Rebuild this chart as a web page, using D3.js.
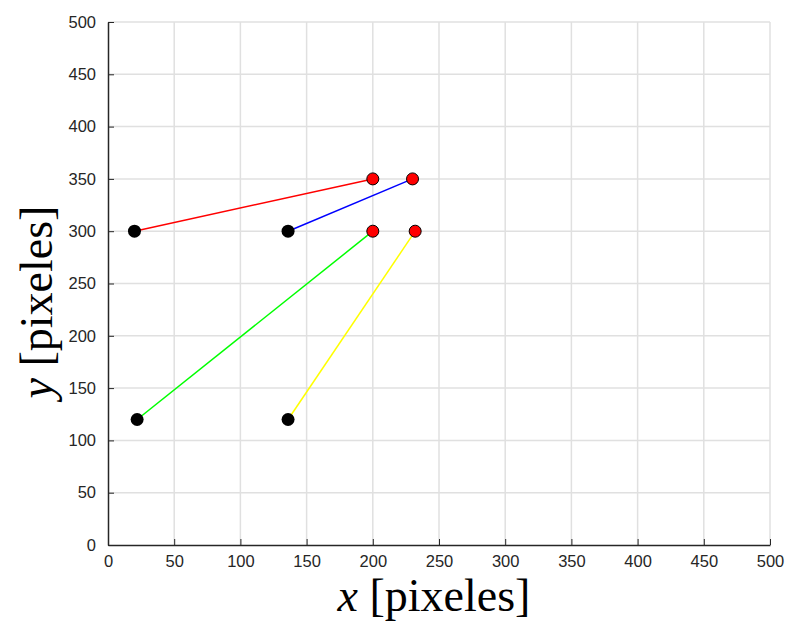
<!DOCTYPE html>
<html>
<head>
<meta charset="utf-8">
<script src="https://cdn.jsdelivr.net/npm/d3@7"></script>
<style>
  body { margin: 0; background: #fff; }
  .tick text { font-family: "Liberation Sans", Arial, sans-serif; font-size: 16.5px; fill: #262626; }
  .axis path, .axis line { stroke: #262626; }
  .lbl { font-family: "Liberation Serif", "DejaVu Serif", serif; font-size: 46px; fill: #000; }
</style>
</head>
<body>
<div id="chart"></div>
<script>
// segment data: start (black) -> end (red)
var startX = [20, 136, 22, 136];
var startY = [300, 300, 120, 120];
var endX = [200, 230, 200, 232];
var endY = [350, 350, 300, 300];
var segColors = ["#ff0000", "#0000ff", "#00ff00", "#ffff00"];
var ticks = [0, 50, 100, 150, 200, 250, 300, 350, 400, 450, 500];

var W = 785, H = 621;
var margin = {left: 108, top: 22, right: 15, bottom: 76};
var width = W - margin.left - margin.right,
    height = H - margin.top - margin.bottom;

var svg = d3.select("#chart").append("svg")
    .attr("width", W).attr("height", H);

var g = svg.append("g")
    .attr("transform", `translate(${margin.left},${margin.top})`);

var x = d3.scaleLinear().domain([0, 500]).range([0, width]);
var y = d3.scaleLinear().domain([0, 500]).range([height, 0]);

// grid
g.append("g").selectAll("line.gx").data(ticks.slice(1)).enter().append("line")
    .attr("x1", d => x(d)).attr("x2", d => x(d))
    .attr("y1", 0).attr("y2", height)
    .attr("stroke", "#e0e0e0").attr("stroke-width", 1.5);
g.append("g").selectAll("line.gy").data(ticks.slice(1)).enter().append("line")
    .attr("y1", d => y(d)).attr("y2", d => y(d))
    .attr("x1", 0).attr("x2", width)
    .attr("stroke", "#e0e0e0").attr("stroke-width", 1.5);

// axes, ticks pointing inward
var xAxis = d3.axisBottom(x).tickValues(ticks).tickSize(-6).tickPadding(10).tickSizeOuter(0);
var yAxis = d3.axisLeft(y).tickValues(ticks).tickSize(-6).tickPadding(12).tickSizeOuter(0);

g.append("g").attr("class", "axis")
    .attr("transform", `translate(0,${height})`)
    .call(xAxis)
    .call(s => s.select(".domain").attr("stroke-width", 1.5));
g.append("g").attr("class", "axis")
    .call(yAxis)
    .call(s => s.select(".domain").attr("stroke-width", 1.5));

// segments
var segs = d3.range(startX.length).map(i => ({
  x0: startX[i], y0: startY[i], x1: endX[i], y1: endY[i], c: segColors[i]
}));

g.selectAll(".seg").data(segs).enter().append("line")
    .attr("class", "seg")
    .attr("x1", d => x(d.x0)).attr("y1", d => y(d.y0))
    .attr("x2", d => x(d.x1)).attr("y2", d => y(d.y1))
    .attr("stroke", d => d.c).attr("stroke-width", 1.5);

g.selectAll(".p0").data(segs).enter().append("circle")
    .attr("cx", d => x(d.x0)).attr("cy", d => y(d.y0))
    .attr("r", 6.5).attr("fill", "#000");

g.selectAll(".p1").data(segs).enter().append("circle")
    .attr("cx", d => x(d.x1)).attr("cy", d => y(d.y1))
    .attr("r", 6).attr("fill", "#ff0000")
    .attr("stroke", "#000").attr("stroke-width", 1);

// axis labels
var xl = svg.append("text").attr("class", "lbl")
    .attr("x", 434).attr("y", 611)
    .attr("text-anchor", "middle");
xl.append("tspan").attr("font-style", "italic").text("x");
xl.append("tspan").text(" [pixeles]");

var yl = svg.append("text").attr("class", "lbl")
    .attr("transform", `translate(52,302) rotate(-90)`)
    .attr("text-anchor", "middle");
yl.append("tspan").attr("font-style", "italic").text("y");
yl.append("tspan").text(" [pixeles]");
</script>
</body>
</html>
